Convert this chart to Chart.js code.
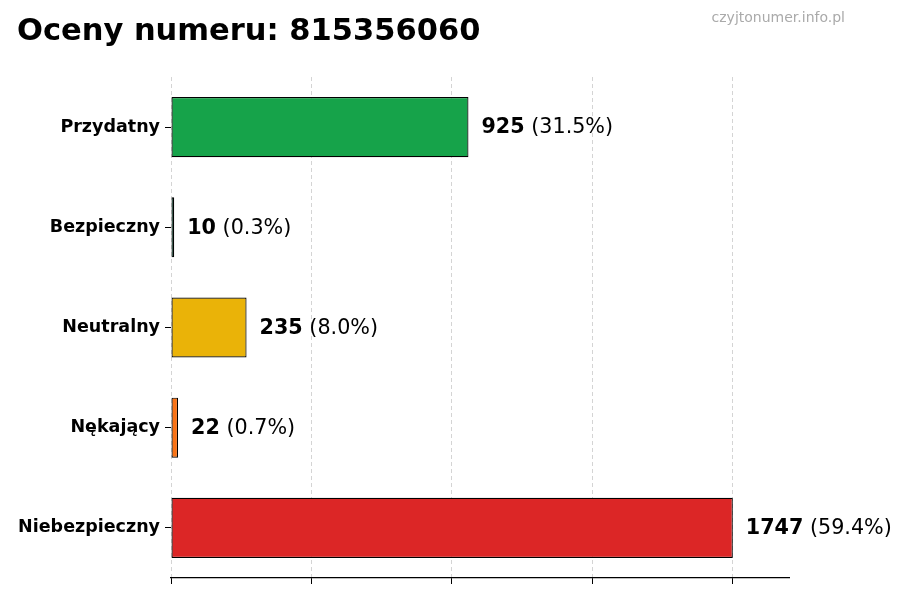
<!DOCTYPE html>
<html>
<head>
<meta charset="utf-8">
<script src="https://cdn.jsdelivr.net/npm/chart.js@4"></script>
<style>
  html, body { margin: 0; padding: 0; background: #fff; }
  #wrap { width: 900px; height: 600px; }
</style>
</head>
<body>
<div id="wrap"><canvas id="ratingChart"></canvas></div>
<script>
const categories = ["Przydatny", "Bezpieczny", "Neutralny", "Nękający", "Niebezpieczny"];
const counts = [925, 10, 235, 22, 1747];
const percents = ["31.5%", "0.3%", "8.0%", "0.7%", "59.4%"];
const barColors = ["#16a34a", "#1b7f5b", "#eab308", "#f97316", "#dc2626"];

const titleText = "Oceny numeru: 815356060";
const siteText = "czyjtonumer.info.pl";
const maxCount = Math.max(...counts);

// title, watermark and the value labels at the bar ends
const annotate = {
  id: "annotate",
  afterDraw(chart) {
    const ctx = chart.ctx;
    ctx.save();
    ctx.fillStyle = "#000";
    ctx.textBaseline = "middle";
    ctx.textAlign = "left";
    ctx.font = "bold 30.5px 'DejaVu Sans'";
    ctx.fillText(titleText, 17, 32);

    ctx.fillStyle = "#aaaaaa";
    ctx.textAlign = "right";
    ctx.font = "14px 'DejaVu Sans'";
    ctx.fillText(siteText, 845, 18);

    const meta = chart.getDatasetMeta(0);
    const x = chart.scales.x;
    ctx.textAlign = "left";
    ctx.fillStyle = "#000";
    meta.data.forEach((bar, i) => {
      const px = x.getPixelForValue(counts[i]) + 13;
      ctx.font = "bold 20.7px 'DejaVu Sans'";
      const num = String(counts[i]);
      ctx.fillText(num, px, bar.y + 1);
      const w = ctx.measureText(num).width;
      ctx.font = "20.7px 'DejaVu Sans'";
      ctx.fillText(" (" + percents[i] + ")", px + w, bar.y + 1);
    });
    ctx.restore();
  }
};

new Chart(document.getElementById("ratingChart"), {
  type: "bar",
  data: {
    labels: categories,
    datasets: [{
      data: counts,
      backgroundColor: barColors,
      borderColor: "#000",
      borderWidth: 1.2,
      borderSkipped: false,
      barPercentage: 0.6,
      categoryPercentage: 1.0
    }]
  },
  options: {
    indexAxis: "y",
    responsive: true,
    maintainAspectRatio: false,
    animation: false,
    layout: { padding: { top: 77, right: 111, bottom: 0, left: 0 } },
    plugins: {
      legend: { display: false },
      tooltip: { enabled: false },
      title: { display: false }
    },
    scales: {
      x: {
        min: 0,
        max: maxCount * 1.1,
        z: 1,
        afterBuildTicks(scale) {
          scale.ticks = [0, 1, 2, 3, 4].map(i => ({ value: maxCount * i / 4 }));
        },
        afterFit(scale) { scale.height = 22; },
        ticks: { display: false },
        grid: {
          color: "rgba(170,170,170,0.5)",
          lineWidth: 1,
          drawTicks: true,
          tickLength: 6,
          tickColor: "#000",
          tickBorderDash: []
        },
        border: { display: true, color: "#000", width: 1.2, dash: [4, 3] }
      },
      y: {
        afterFit(scale) { scale.width = 171; },
        ticks: {
          color: "#000",
          padding: 5,
          font: { family: "'DejaVu Sans'", size: 17.5, weight: "bold" }
        },
        grid: {
          display: true,
          offset: false,
          drawOnChartArea: false,
          drawTicks: true,
          tickLength: 6,
          tickColor: "#000"
        },
        border: { display: false }
      }
    }
  },
  plugins: [annotate]
});
</script>
</body>
</html>
